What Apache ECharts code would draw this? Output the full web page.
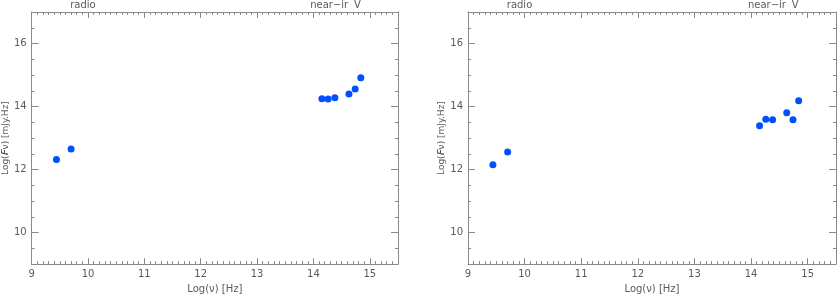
<!DOCTYPE html>
<html>
<head>
<meta charset="utf-8">
<script src="https://cdn.jsdelivr.net/npm/echarts@6/dist/echarts.min.js"></script>
<style>
  html, body { margin: 0; padding: 0; background: #fff; }
  #chart { width: 837px; height: 299px; }
</style>
</head>
<body>
<div id="chart"></div>
<script>
// log frequency [Hz], same bands in both panels
var logNu = [9.44, 9.70, 14.15, 14.26, 14.38, 14.63, 14.74, 14.84];
var logFluxLeft = [12.32, 12.65, 14.25, 14.24, 14.28, 14.40, 14.56, 14.91];
var logFluxRight = [12.15, 12.56, 13.39, 13.60, 13.58, 13.80, 13.58, 14.18];

// band labels along the top axis
var bandNames = ['radio', 'near\u2212ir', 'V'];
var bandPos = [9.91, 14.28, 14.78];

var xTickLabels = [9, 10, 11, 12, 13, 14, 15];
var yTickLabels = [10, 12, 14, 16];

var axisGray = '#8a8a8a';
var textGray = '#5a5a5a';
var dotBlue = '#0050ff';
var fontFam = 'DejaVu Sans';

var grids = [
    { left: 30, right: 439, top: 11, bottom: 28 },
    { left: 468, right: 1, top: 11, bottom: 28 }
];

function pairs(ys) {
    var out = [];
    for (var i = 0; i < logNu.length; i++) out.push([logNu[i], ys[i]]);
    return out;
}

var xAxes = [];
var yAxes = [];
grids.forEach(function (g, gi) {
    // bottom axis with labels
    xAxes.push({
        type: 'value', gridIndex: gi, position: 'bottom',
        min: 9, max: 15.5, interval: 1,
        name: 'Log(\u03bd) [Hz]', nameLocation: 'middle', nameGap: 15,
        nameTextStyle: { color: textGray, fontSize: 10, fontFamily: fontFam },
        axisLine: { lineStyle: { color: axisGray, width: 1 } },
        axisTick: { inside: true, length: 6, customValues: xTickLabels, lineStyle: { color: axisGray } },
        minorTick: { show: true, splitNumber: 10, length: 3, lineStyle: { color: axisGray } },
        axisLabel: { customValues: xTickLabels, color: textGray, fontSize: 10, fontFamily: fontFam, margin: 5 },
        splitLine: { show: false }
    });
    // top axis with band names
    xAxes.push({
        type: 'value', gridIndex: gi, position: 'top',
        min: 9, max: 15.5, interval: 1,
        axisLine: { lineStyle: { color: axisGray, width: 1 } },
        axisTick: { inside: true, length: 6, customValues: xTickLabels, lineStyle: { color: axisGray } },
        minorTick: { show: true, splitNumber: 10, length: 3, lineStyle: { color: axisGray } },
        axisLabel: {
            customValues: bandPos, color: textGray, fontSize: 10, fontFamily: fontFam, margin: 2,
            formatter: function (v) {
                var k = bandPos.indexOf(v);
                return k >= 0 ? bandNames[k] : '';
            }
        },
        splitLine: { show: false }
    });
    ['left', 'right'].forEach(function (side) {
        // major ticks (and labels on the left)
        yAxes.push({
            type: 'value', gridIndex: gi, position: side,
            min: 9, max: 17, interval: 1,
            name: side === 'left' ? 'Log(\uD835\uDC6D\u03bd) [mJy.Hz]' : '',
            nameLocation: 'middle', nameGap: 14,
            nameTextStyle: { color: textGray, fontSize: 9, fontFamily: fontFam },
            axisLine: { show: true, lineStyle: { color: axisGray, width: 1 } },
            axisTick: { show: true, inside: true, length: 7, customValues: yTickLabels, lineStyle: { color: axisGray } },
            axisLabel: { show: side === 'left', customValues: yTickLabels, color: textGray, fontSize: 10, fontFamily: fontFam, margin: 5 },
            splitLine: { show: false }
        });
        // minor ticks every 0.5
        yAxes.push({
            type: 'value', gridIndex: gi, position: side,
            min: 9, max: 17, interval: 0.5,
            axisLine: { show: false },
            axisTick: { show: true, inside: true, length: 3, lineStyle: { color: axisGray } },
            axisLabel: { show: false },
            splitLine: { show: false }
        });
    });
});

var chart = echarts.init(document.getElementById('chart'), null, { renderer: 'canvas' });
chart.setOption({
    animation: false,
    backgroundColor: '#fff',
    grid: grids,
    xAxis: xAxes,
    yAxis: yAxes,
    series: [
        {
            type: 'scatter', xAxisIndex: 0, yAxisIndex: 0,
            symbolSize: 7, itemStyle: { color: dotBlue, opacity: 1 },
            data: pairs(logFluxLeft)
        },
        {
            type: 'scatter', xAxisIndex: 2, yAxisIndex: 4,
            symbolSize: 7, itemStyle: { color: dotBlue, opacity: 1 },
            data: pairs(logFluxRight)
        }
    ]
});
</script>
</body>
</html>
